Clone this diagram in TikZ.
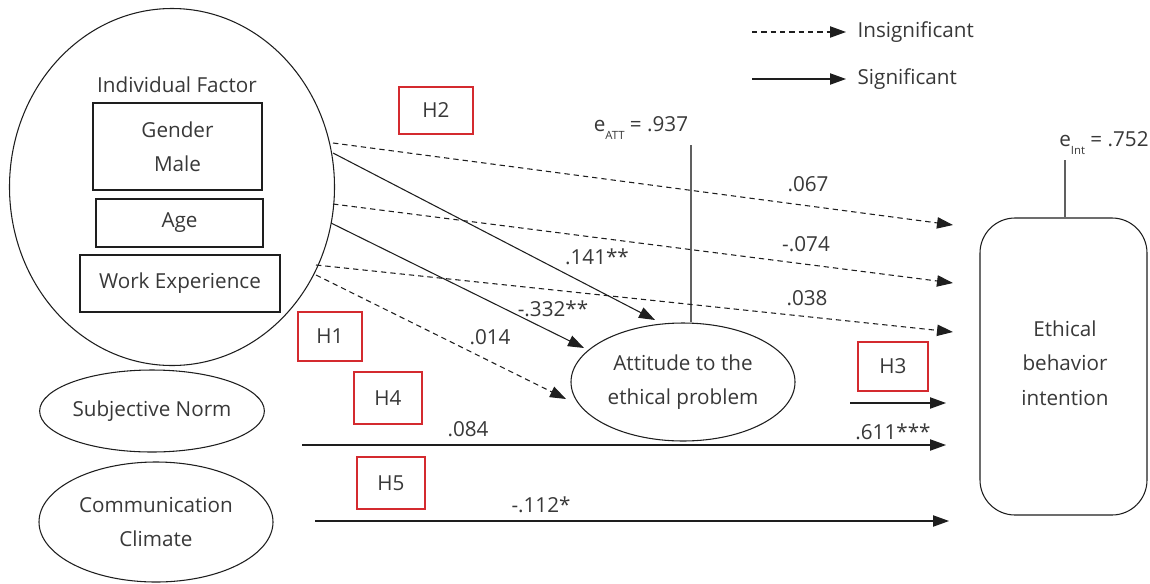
\documentclass[tikz,border=0pt]{standalone}
\usepackage{fontspec}
\setmainfont{Open Sans}
\usetikzlibrary{shapes.geometric,arrows.meta}
\definecolor{txt}{HTML}{383838}
\definecolor{hred}{HTML}{D42A2F}
\definecolor{ln}{HTML}{1E1E1E}
\newcommand\pxu{0.75pt}
\newcommand\fs{\fontsize{15.5}{25.5}\selectfont}
\newcommand\subs[1]{\raisebox{-0.7ex}{\fontsize{8.5}{8.5}\selectfont #1}}
\begin{document}
\begin{tikzpicture}[x=0.75pt,y=-0.75pt,
  lat/.style={ellipse, draw=ln, line width=0.8pt, inner sep=0pt, text=txt, font=\fs, align=center},
  boxs/.style={draw=ln, line width=0.8pt, inner sep=0pt, text=txt, font=\fs, align=center},
  hyp/.style={draw=hred, line width=1.6pt, inner sep=0pt, text=txt, font=\fs},
  lab/.style={text=txt, font=\fs, inner sep=1pt},
  sig/.style={draw=ln, line width=0.8pt, -{Triangle[length=12pt,width=8.5pt]}},
  ins/.style={sig, dash pattern=on 4pt off 3pt},
  errl/.style={draw=txt!80, line width=1.1pt}]
\useasboundingbox (0,0) rectangle (1150,583);

% latent variables and boxes
\node[lat, minimum width=325*\pxu, minimum height=357*\pxu] (ind) at (172,187) {};
\node[lab] (indt) at (177,85) {Individual Factor};
\node[boxs, minimum width=169*\pxu, minimum height=87*\pxu] (gen) at (177.5,146.5) {Gender\\Male};
\node[boxs, minimum width=167*\pxu, minimum height=48*\pxu] (age) at (179.5,223) {Age};
\node[boxs, minimum width=200*\pxu, minimum height=57*\pxu] (work) at (180,283.5) {Work Experience};
\node[lat, minimum width=221*\pxu, minimum height=82*\pxu] (sn) at (152,411) {Subjective Norm};
\node[lat, minimum width=234*\pxu, minimum height=120*\pxu] (cc) at (156,522) {Communication\\Climate};
\node[lat, minimum width=224*\pxu, minimum height=118*\pxu] (att) at (683,382) {Attitude to the\\ethical problem};
\node[boxs, rounded corners=35*\pxu, minimum width=167*\pxu, minimum height=297*\pxu] (ebi) at (1063.5,366.5) {};
\node[lab, align=center, font=\fontsize{15.5}{26}\selectfont] (ebit) at (1065,363) {Ethical\\behavior\\intention};

% hypothesis boxes
\node[hyp, minimum width=74*\pxu, minimum height=47*\pxu] (h2) at (436,110.5) {H2};
\node[hyp, minimum width=64*\pxu, minimum height=49*\pxu] (h1) at (330,336.5) {H1};
\node[hyp, minimum width=68*\pxu, minimum height=52*\pxu] (h4) at (388,398) {H4};
\node[hyp, minimum width=68*\pxu, minimum height=52*\pxu] (h5) at (391,483) {H5};
\node[hyp, minimum width=70*\pxu, minimum height=49*\pxu] (h3) at (893,366.5) {H3};

% error terms
\coordinate (eatt) at (691,145);
\draw[errl] (eatt) -- (eatt |- att.north);
\node[lab] (eattl) at (641,128) {e\subs{ATT} = .937};
\coordinate (eint) at (1065,160);
\draw[errl] (eint) -- (eint |- ebi.north);
\node[lab] (eintl) at (1104,143) {e\subs{Int} = .752};

% path coordinates
\coordinate (s1) at (333,143);  \coordinate (t1) at (953,225);
\coordinate (s2) at (333,204);  \coordinate (t2) at (953,283);
\coordinate (s3) at (316,265);  \coordinate (t3) at (953,332);
\coordinate (s4) at (333,153);  \coordinate (t4) at (655,320);
\coordinate (s5) at (331,223);  \coordinate (t5) at (584,348);
\coordinate (s6) at (316,275);  \coordinate (t6) at (566,399);
\coordinate (s7) at (850,403);  \coordinate (t7) at (946,403);
\coordinate (s8) at (302,445);  \coordinate (t8) at (946,445);
\coordinate (s9) at (315,521);  \coordinate (t9) at (949,521);

\draw[ins] (s1) -- (t1);
\draw[ins] (s2) -- (t2);
\draw[ins] (s3) -- (t3);
\draw[sig] (s4) -- (t4);
\draw[sig] (s5) -- (t5);
\draw[ins] (s6) -- (t6);
\draw[sig] (s7) -- (t7);
\draw[sig] (s8) -- (t8);
\draw[sig] (s9) -- (t9);

% path labels
\node[lab] (l1) at (808,184) {.067};
\node[lab] (l2) at (806,244) {-.074};
\node[lab] (l3) at (807,298) {.038};
\node[lab] (l4) at (597,257) {.141**};
\node[lab] (l5) at (553,309) {-.332**};
\node[lab] (l6) at (490,337) {.014};
\node[lab] (l8) at (468,429) {.084};
\node[lab] (l7) at (893,432) {.611***};
\node[lab] (l9) at (541,505) {-.112*};

% legend
\coordinate (g1a) at (752,32); \coordinate (g1b) at (846,32);
\coordinate (g2a) at (752,79); \coordinate (g2b) at (846,79);
\draw[ins] (g1a) -- (g1b);
\draw[sig] (g2a) -- (g2b);
\node[lab, anchor=west] (g1t) at (856,32) {Insignificant};
\node[lab, anchor=west] (g2t) at (856,79) {Significant};
\end{tikzpicture}
\end{document}
